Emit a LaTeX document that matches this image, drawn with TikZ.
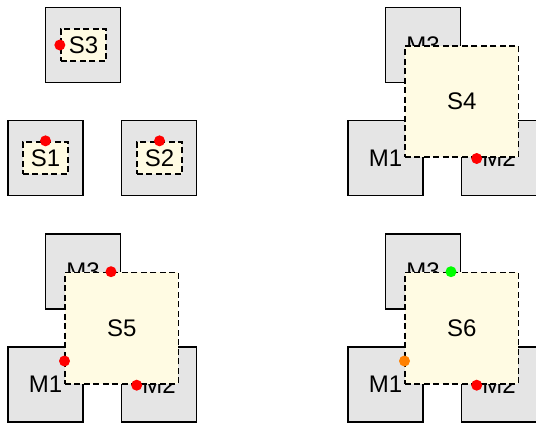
\documentclass[tikz,border=0pt]{standalone}
\usepackage{fontspec}
\setmainfont{Liberation Sans}
\definecolor{mfill}{RGB}{229,229,229}
\definecolor{sfill}{RGB}{255,251,227}
\definecolor{dotred}{RGB}{255,0,0}
\definecolor{dotgreen}{RGB}{0,255,0}
\definecolor{dotorange}{RGB}{255,128,0}
\tikzset{
  mbox/.style={draw=black, fill=mfill, line width=1.8pt, minimum width=75pt, minimum height=75pt, inner sep=0pt, font=\fontsize{24}{28}\selectfont},
  sbox/.style={draw=black, fill=sfill, line width=1.8pt, dash pattern=on 6pt off 3.5pt, inner sep=0pt, font=\fontsize{24}{28}\selectfont},
  smallbox/.style={sbox, minimum width=45.5pt, minimum height=32.5pt},
  bigbox/.style={sbox, minimum width=113.5pt, minimum height=111.5pt},
  pdot/.style={circle, fill=#1, draw=none, inner sep=0pt, minimum size=11pt},
  pdot/.default=dotred
}
\begin{document}
\begin{tikzpicture}[x=1pt, y=-1pt]
\useasboundingbox (0,0) rectangle (536,423);
% panel 1
\node[mbox] (aM3) at (83,45) {};
\node[mbox] (aM1) at (45.5,158) {};
\node[mbox] (aM2) at (159,158) {};
\node[smallbox] (S3) at (83.5,45) {S3};
\node[smallbox] (S1) at (45.5,158) {S1};
\node[smallbox] (S2) at (159.5,158) {S2};
\node[pdot] (d3) at (S3.west) {};
\node[pdot] (d1) at (S1.north) {};
\node[pdot] (d2) at (S2.north) {};
% panel 2
\begin{scope}[shift={(340,0)}]
\node[mbox] (bM3) at (83,45) {M3};
\node[mbox] (bM1) at (45.5,158) {M1};
\node[mbox] (bM2) at (159,158) {M2};
\node[bigbox] (S4) at (121.7,101.5) {S4};
\node[pdot] (d4) at (136.7,158.5) {};
\end{scope}
% panel 3
\begin{scope}[shift={(0,226.7)}]
\node[mbox] (cM3) at (83,45) {M3};
\node[mbox] (cM1) at (45.5,158) {M1};
\node[mbox] (cM2) at (159,158) {M2};
\node[bigbox] (S5) at (121.7,101.5) {S5};
\node[pdot] (d5a) at (111,45) {};
\node[pdot] (d5b) at (64.5,134.3) {};
\node[pdot] (d5c) at (136.7,158.5) {};
\end{scope}
% panel 4
\begin{scope}[shift={(340,226.7)}]
\node[mbox] (eM3) at (83,45) {M3};
\node[mbox] (eM1) at (45.5,158) {M1};
\node[mbox] (eM2) at (159,158) {M2};
\node[bigbox] (S6) at (121.7,101.5) {S6};
\node[pdot=dotgreen] (d6a) at (111,45) {};
\node[pdot=dotorange] (d6b) at (64.5,134.3) {};
\node[pdot] (d6c) at (136.7,158.5) {};
\end{scope}
\end{tikzpicture}
\end{document}
